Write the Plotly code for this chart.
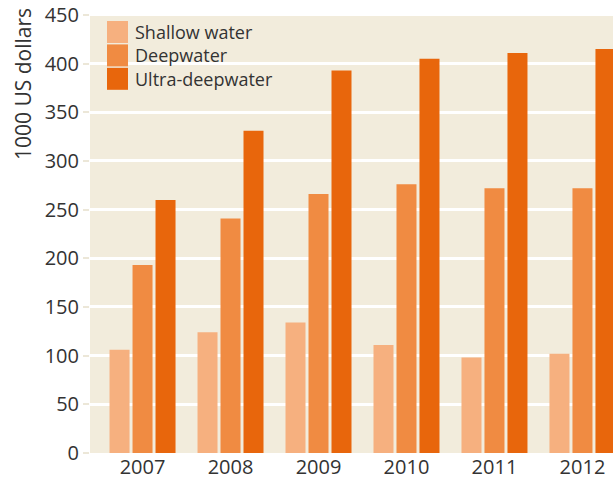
import plotly.graph_objects as go

years = [2007, 2008, 2009, 2010, 2011, 2012]
shallow = [106, 124, 134, 111, 98, 102]
deep = [193, 241, 266, 276, 272, 272]
ultra = [260, 331, 393, 405, 411, 415]

series_names = ["Shallow water", "Deepwater", "Ultra-deepwater"]
series_colors = ["#f6b07f", "#f08b42", "#e8660c"]
y_ticks = [0, 50, 100, 150, 200, 250, 300, 350, 400, 450]

PW, PH = 523, 440  # plot area size in px
ROW = 23.4         # legend row pitch in px

fig = go.Figure()
for name, vals, col in zip(series_names, [shallow, deep, ultra], series_colors):
    fig.add_trace(go.Bar(x=years, y=vals, name=name, marker=dict(color=col, line=dict(width=0)),
                         showlegend=False))

# custom legend: coloured squares + one multi-line text block
for i, col in enumerate(series_colors):
    y0 = 1 - (8 + i * ROW) / PH
    y1 = y0 - 22 / PH
    fig.add_shape(type="rect", xref="paper", yref="paper",
                  x0=17 / PW, x1=38 / PW, y0=y1, y1=y0,
                  fillcolor=col, line=dict(width=0), layer="above")
fig.add_annotation(xref="paper", yref="paper", x=44 / PW,
                   y=1 - (8 + 11 + ROW) / PH,
                   text="<br>".join(series_names), showarrow=False,
                   xanchor="left", yanchor="middle", align="left", borderpad=0,
                   font=dict(family="Open Sans", size=18, color="#333333"))

# y-axis title, placed at top as in the original
fig.add_annotation(xref="paper", yref="paper", x=(23 - 90) / PW, y=1 + (13 - 6) / PH,
                   text="1000 US dollars", showarrow=False, textangle=-90,
                   xanchor="center", yanchor="top",
                   font=dict(family="Open Sans", size=21, color="#333333"))

fig.update_layout(
    width=613, height=486,
    margin=dict(l=90, r=0, t=13, b=33),
    paper_bgcolor="white",
    plot_bgcolor="#f2ecdc",
    barmode="group",
    bargap=0.216,
    bargroupgap=0.13,
    font=dict(family="Open Sans", size=20, color="#333333"),
    xaxis=dict(range=[2006.403, 2012.347], tickmode="array", tickvals=years,
               ticktext=[str(y) for y in years], showgrid=False, zeroline=False,
               showline=False, ticks="", tickfont=dict(size=20)),
    yaxis=dict(range=[0, 452], tickvals=y_ticks, showgrid=True, gridcolor="white",
               gridwidth=3, zeroline=False, showline=False, ticks="outside",
               ticklen=6, tickcolor="#ece7d8", tickwidth=2,
               tickfont=dict(size=20)),
)

fig.write_html("out.html", config={"displayModeBar": False},
               post_script="document.body.style.margin='0';")
